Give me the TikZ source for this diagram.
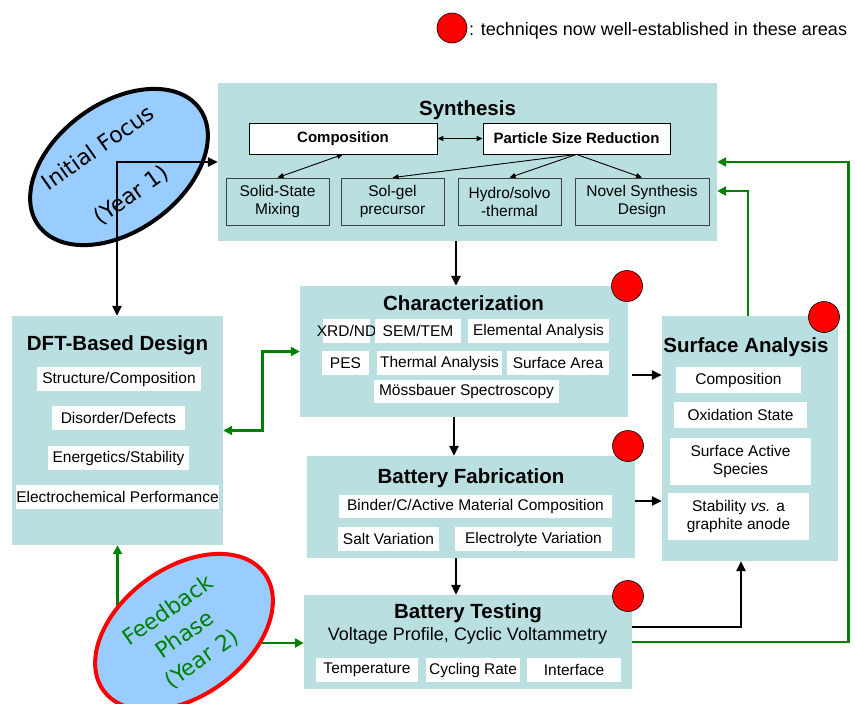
\documentclass[tikz,border=0pt]{standalone}
\usepackage{fontspec}
\setmainfont{Liberation Sans}
\newfontfamily\dvfont{DejaVu Sans}
\usetikzlibrary{shapes.geometric,arrows.meta,backgrounds}
\definecolor{boxc}{HTML}{B9DFE1}
\definecolor{ellc}{HTML}{99CCFF}
\definecolor{grn}{HTML}{008000}
\tikzset{
  BT/.tip={Triangle[length=10pt,width=9pt]},
  GT/.tip={Triangle[length=9pt,width=9pt]},
  TT/.tip={Triangle[length=6pt,width=5pt]},
}
\begin{document}
\begin{tikzpicture}[x=1pt,y=-1pt,
  box/.style={fill=boxc, inner sep=0pt, draw=none},
  ttl/.style={font=\fontsize{20.5}{24}\selectfont\bfseries, anchor=base, inner sep=0pt},
  wb/.style={fill=white, inner sep=0pt, minimum height=24pt, font=\fontsize{15.5}{18}\selectfont, align=center},
  sb/.style={fill=boxc, draw=black!75, line width=0.8pt, inner sep=0pt, minimum height=47pt, align=center, font=\fontsize{15.5}{18}\selectfont},
  cb/.style={fill=white, draw=black, line width=0.8pt, inner sep=0pt, minimum height=31pt, font=\fontsize{15}{18}\selectfont\bfseries},
  ellshape/.style={fill=ellc, line width=4pt},
  dot/.style={circle, fill=red, draw=black, line width=0.6pt, minimum size=31pt, inner sep=0pt},
  barrow/.style={line width=2.6pt, -BT},
  garrow/.style={draw=grn, line width=2.6pt, -GT},
  tarrow/.style={line width=0.9pt, -TT},
  etxt/.style={font=\dvfont\fontsize{22}{29.5}\selectfont, rotate=35, align=center, inner sep=0pt},
]
\clip (0,0) rectangle (855,704);

% legend
\node[dot, minimum size=30pt] (legdot) at (452,28) {};
\node[anchor=base west, font=\fontsize{18}{20}\selectfont, inner sep=0pt] (legtxt) at (469,35) {: techniqes now well-established in these areas};

% main boxes
\node[box, minimum width=499pt, minimum height=158pt] (synth) at (467.5,162) {};
\node[box, minimum width=328pt, minimum height=131pt] (char) at (464,351.5) {};
\node[box, minimum width=211pt, minimum height=229pt] (dft) at (117.5,430.5) {};
\node[box, minimum width=328pt, minimum height=102pt] (fab) at (471,507) {};
\node[box, minimum width=176pt, minimum height=245pt] (surf) at (750,438.5) {};
\node[box, minimum width=328pt, minimum height=94pt] (test) at (468,642) {};

% titles
\node[ttl] (synthT) at (467.5,115) {Synthesis};
\node[ttl] (charT) at (463.5,310) {Characterization};
\node[ttl] (dftT) at (117.5,350) {DFT-Based Design};
\node[ttl] (surfT) at (746,352) {Surface Analysis};
\node[ttl] (fabT) at (471,483) {Battery Fabrication};
\node[ttl] (testT) at (468,618) {Battery Testing};
\node[anchor=base, font=\fontsize{18}{20}\selectfont, inner sep=0pt] (testS) at (467.5,640) {Voltage Profile, Cyclic Voltammetry};

% synthesis sub-boxes
\node[cb, minimum width=188pt] (comp) at (343,138.5) {Composition};
\node[cb, minimum width=187pt] (psr) at (576.5,138.5) {Particle Size Reduction};
\node[sb, minimum width=103pt] (ssm) at (277.5,201.5) {Solid-State\\Mixing};
\node[sb, minimum width=103pt] (sg) at (392.5,201.5) {Sol-gel\\precursor};
\node[sb, minimum width=103pt] (hyd) at (509.5,201.5) {Hydro/solvo\\-thermal};
\node[sb, minimum width=134pt] (nov) at (642,201.5) {Novel Synthesis\\Design};

% characterization sub-boxes
\node[wb, minimum width=47pt, inner xsep=-6pt] (xrd) at (346.5,331) {XRD/ND};
\node[wb, minimum width=86pt] (sem) at (418,331) {SEM/TEM};
\node[wb, minimum width=141pt] (ele) at (538.5,331) {Elemental Analysis};
\node[wb, minimum width=47pt] (pes) at (345.5,363) {PES};
\node[wb, minimum width=125pt] (the) at (439.5,363) {Thermal Analysis};
\node[wb, minimum width=102pt] (sar) at (558,363) {Surface Area};
\node[wb, minimum width=185pt, minimum height=23pt] (mos) at (466.5,391.5) {Mössbauer Spectroscopy};

% DFT sub-boxes
\node[wb, minimum width=164pt] (dft1) at (119,379) {Structure/Composition};
\node[wb, minimum width=133pt] (dft2) at (118.5,418) {Disorder/Defects};
\node[wb, minimum width=141pt] (dft3) at (118.5,458) {Energetics/Stability};
\node[wb, minimum width=203pt] (dft4) at (117.5,497) {Electrochemical Performance};

% fabrication sub-boxes
\node[wb, minimum width=273pt, minimum height=23pt] (fab1) at (475.5,506.5) {Binder/C/Active Material Composition};
\node[wb, minimum width=101pt] (fab2) at (388.5,539) {Salt Variation};
\node[wb, minimum width=157pt] (fab3) at (533.5,539) {Electrolyte Variation};

% surface sub-boxes
\node[wb, minimum width=125pt, minimum height=26pt] (sa1) at (738.5,380) {Composition};
\node[wb, minimum width=133pt, minimum height=26pt] (sa2) at (740.5,415) {Oxidation State};
\node[wb, minimum width=141pt, minimum height=47pt] (sa3) at (740.5,461.5) {Surface Active\\Species};
\node[wb, minimum width=141pt, minimum height=47pt] (sa4) at (738.5,516.5) {Stability \textit{vs.} a\\graphite anode};

% testing sub-boxes
\node[wb, minimum width=102pt] (t1) at (367,670) {Temperature};
\node[wb, minimum width=94pt] (t2) at (473,670) {Cycling Rate};
\node[wb, minimum width=94pt] (t3) at (574,670) {Interface};

% red dots
\node[dot] (d1) at (627,286) {};
\node[dot] (d2) at (628,446) {};
\node[dot] (d3) at (628,596) {};
\node[dot] (d4) at (824,317) {};

% ellipses
\coordinate (ifc) at (119,167);
\coordinate (if) at (117,162);
\filldraw[ellshape, draw=black, rotate around={36:(ifc)}] (ifc) ellipse [x radius=99.5, y radius=64];
\coordinate (fb) at (184,632);
\filldraw[ellshape, draw=red, rotate around={36:(fb)}] (fb) ellipse [x radius=99.5, y radius=64];
\node[etxt] (iftxt) at (115,172) {Initial Focus\\[28pt](Year 1)};
\node[etxt, text=grn] (fbtxt) at (185,635) {Feedback\\Phase\\(Year 2)};

% synthesis internal arrows
\draw[line width=0.9pt, TT-TT] (comp.south) -- (ssm.north);
\draw[line width=0.9pt, TT-TT] (comp.east) -- (psr.west);
\draw[tarrow] (psr.south) -- (sg.north);
\draw[tarrow] (psr.south) -- (hyd.north);
\draw[tarrow] (psr.south) -- (nov.north);

% initial focus arrows
\draw[line width=2.6pt, BT-BT] (if -| synth.west) -- (if) -- (if |- dft.north);

% main flow
\coordinate (ax) at (456,0);
\draw[barrow] (synth.south -| ax) -- (char.north -| ax);
\draw[barrow] ([xshift=-2pt]char.south -| ax) -- ([xshift=-2pt]fab.north -| ax);
\draw[barrow] (fab.south -| ax) -- (test.north -| ax);
\coordinate (cy) at (0,375);
\draw[barrow] ([xshift=4pt]char.east |- cy) -- (surf.west |- cy);
\coordinate (fy) at (0,501);
\draw[barrow] (fab.east |- fy) -- (surf.west |- fy);
\draw[barrow] ([yshift=15pt]test.east) -| ([xshift=-9pt]surf.south);

% green feedback
\draw[garrow] (test.east) -- ++(216,0) |- (synth.east);
\draw[garrow] ([xshift=-2pt]surf.north) |- ([yshift=-29pt]synth.east);
\draw[draw=grn, line width=2.6pt, GT-GT] (dft.east) -- ++(39,0) |- (char.west);
\begin{scope}[on background layer]
\draw[garrow] (fb -| dft.south) -- (dft.south);
\draw[garrow] ([yshift=-11pt]fb) -- ([yshift=-11pt]fb -| test.west);
\end{scope}
\end{tikzpicture}
\end{document}
